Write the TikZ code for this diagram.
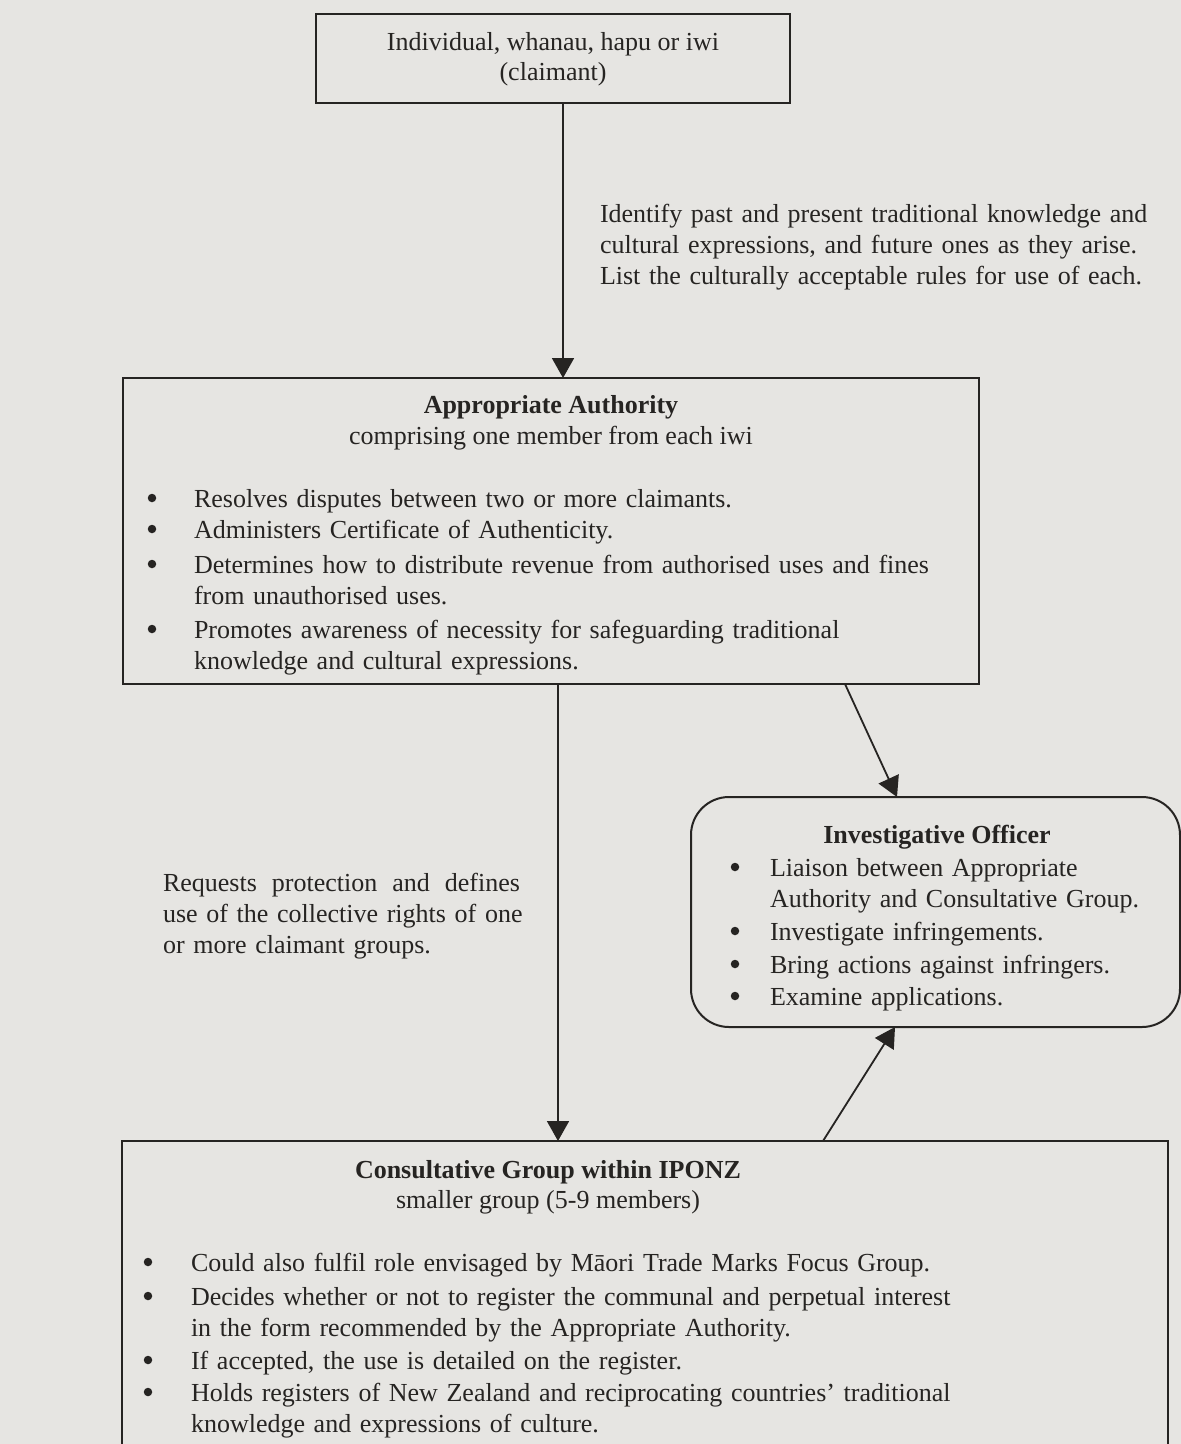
\documentclass[tikz,border=0pt]{standalone}
\usepackage{fontspec}
\setmainfont{Liberation Serif}
\usetikzlibrary{arrows.meta}
\definecolor{paper}{RGB}{230,229,226}
\definecolor{ink}{RGB}{38,36,34}
\tikzset{
  boxst/.style={draw=ink, line width=2pt, inner sep=0pt, outer sep=0pt},
  txt/.style={inner sep=0pt, outer sep=0pt, text=ink, font=\fontsize{26}{31}\selectfont},
  ttl/.style={txt, font=\fontsize{26}{31}\selectfont\bfseries},
  para/.style={txt, text width=900pt, align=left, anchor=base west},
  dot/.style={circle, fill=ink, inner sep=0pt, outer sep=0pt, minimum size=8.5pt},
  conn/.style={draw=ink, line width=1.8pt, -{Triangle[length=20pt,width=22pt]}},
}
\newcommand\bul[3]{\node[dot] (#1) at (#2,#3-9) {};}
\begin{document}
\begin{tikzpicture}[x=1pt,y=-1pt]
\fill[paper] (0,0) rectangle (1181,1444);
\useasboundingbox (0,0) rectangle (1181,1444);
\begin{scope}
\clip (0,0) rectangle (1181,1444);
% boxes
\node[boxst, minimum width=474pt, minimum height=89pt] (claim) at (553,58.5) {};
\node[boxst, minimum width=856pt, minimum height=306pt] (auth) at (551,531) {};
\node[boxst, minimum width=489pt, minimum height=230pt, rounded corners=38pt] (inv) at (935.5,912) {};
\node[boxst, minimum width=1046pt, minimum height=320pt] (cons) at (645,1301) {};

% top box text
\node[txt, anchor=base] (claimA) at (553,50) {Individual, whanau, hapu or iwi};
\node[txt, anchor=base] (claimB) at (553,80) {(claimant)};

% right annotation
\node[para] (ident) at (600,222) {Identify past and present traditional knowledge and\\cultural expressions, and future ones as they arise.\\List the culturally acceptable rules for use of each.};

% authority
\node[ttl, anchor=base] (authT) at (551,413) {Appropriate Authority};
\node[txt, anchor=base] (authS) at (551,444) {comprising one member from each iwi};
\bul{ab1}{152}{507}\node[para] (ai1) at (194,507) {Resolves disputes between two or more claimants.};
\bul{ab2}{152}{538}\node[para] (ai2) at (194,538) {Administers Certificate of Authenticity.};
\bul{ab3}{152}{573}\node[para] (ai3) at (194,573) {Determines how to distribute revenue from authorised uses and fines\\from unauthorised uses.};
\bul{ab4}{152}{638}\node[para] (ai4) at (194,638) {Promotes awareness of necessity for safeguarding traditional\\knowledge and cultural expressions.};

% left annotation
\node[para] (req) at (163,891) {\makebox[357pt][l]{Requests\hfill protection\hfill and\hfill defines}\\use of the collective rights of one\\or more claimant groups.};

% investigative
\node[ttl, anchor=base] (invT) at (937,843) {Investigative Officer};
\bul{ib1}{735}{876}\node[para] (ii1) at (770,876) {Liaison between Appropriate\\Authority and Consultative Group.};
\bul{ib2}{735}{940}\node[para] (ii2) at (770,940) {Investigate infringements.};
\bul{ib3}{735}{973}\node[para] (ii3) at (770,973) {Bring actions against infringers.};
\bul{ib4}{735}{1005}\node[para] (ii4) at (770,1005) {Examine applications.};

% consultative
\node[ttl, anchor=base] (consT) at (548,1178) {Consultative Group within IPONZ};
\node[txt, anchor=base] (consS) at (548,1208) {smaller group (5-9 members)};
\bul{cb1}{148}{1271}\node[para] (ci1) at (191,1271) {Could also fulfil role envisaged by Māori Trade Marks Focus Group.};
\bul{cb2}{148}{1305}\node[para] (ci2) at (191,1305) {Decides whether or not to register the communal and perpetual interest\\in the form recommended by the Appropriate Authority.};
\bul{cb3}{148}{1369}\node[para] (ci3) at (191,1369) {If accepted, the use is detailed on the register.};
\bul{cb4}{148}{1401}\node[para] (ci4) at (191,1401) {Holds registers of New Zealand and reciprocating countries’ traditional\\knowledge and expressions of culture.};

% connectors
\draw[conn] ([xshift=10pt]claim.south) -- ([xshift=12pt]auth.north);
\draw[conn] ([xshift=7pt]auth.south) -- ([xshift=-87pt]cons.north);
\draw[conn] ([xshift=294pt]auth.south) -- ([xshift=-38.5pt]inv.north);
\draw[conn] ([xshift=178pt]cons.north) -- ([xshift=-40.5pt]inv.south);
\end{scope}
\end{tikzpicture}
\end{document}
